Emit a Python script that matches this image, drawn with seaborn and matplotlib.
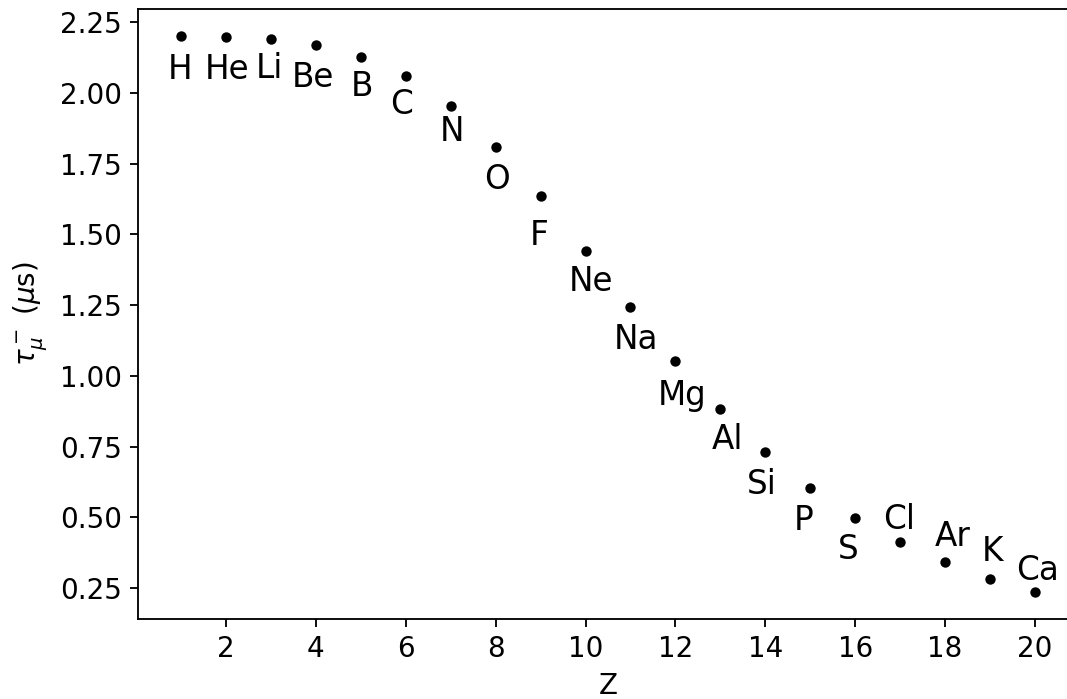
import matplotlib
matplotlib.use("Agg")
import matplotlib.pyplot as plt
import seaborn as sns
import pandas as pd

# Data
elements = ["H", "He", "Li", "Be", "B", "C", "N", "O", "F", "Ne",
            "Na", "Mg", "Al", "Si", "P", "S", "Cl", "Ar", "K", "Ca"]
Z = list(range(1, 21))
lifetime_us = [2.200, 2.199, 2.190, 2.171, 2.127, 2.060, 1.953, 1.810, 1.636, 1.442,
               1.244, 1.052, 0.882, 0.730, 0.603, 0.498, 0.412, 0.341, 0.284, 0.238]

# Label offsets (pixels, from point to text baseline centre)
label_dx = [-1, 0.7, -1.3, -2.7, 0.7, -4, 1, 1.7, -1.6, 5,
            5.3, 7, 7, -3.3, -6.7, -7, -1.3, 7.4, 2.7, 3]
label_dy = [-42.2, -41.8, -39.2, -42.1, -39.1, -37.5, -34.5, -42.4, -48.5, -40.4,
            -41.8, -44.1, -39.5, -41.5, -42.1, -40.8, 13.5, 16.9, 17.9, 11.9]

df = pd.DataFrame({"Z": Z, "tau": lifetime_us, "el": elements})

W, H = 1067, 699
fig = plt.figure(figsize=(W / 100, H / 100), dpi=100)
ax = fig.add_axes([138.3 / W, (H - 619.3) / H, (1077.7 - 138.3) / W, (619.3 - 8.7) / H])

sns.scatterplot(data=df, x="Z", y="tau", ax=ax, color="black", s=56, linewidth=0)

for z, t, el, dx, dy in zip(Z, lifetime_us, elements, label_dx, label_dy):
    ax.annotate(el, (z, t), xytext=(dx, dy), textcoords="offset pixels",
                ha="center", va="baseline", fontsize=23.5, color="black")

yt = [0.25, 0.50, 0.75, 1.00, 1.25, 1.50, 1.75, 2.00, 2.25]
ax.set_xlim(0.05, 20.95)
ax.set_ylim(0.140, 2.298)
ax.set_xticks([2, 4, 6, 8, 10, 12, 14, 16, 18, 20])
ax.set_yticks(yt)
ax.set_yticklabels([f"{v:.2f}" for v in yt])
ax.set_xlabel("Z", fontsize=20, labelpad=6.5)
ax.set_ylabel(r"$\tau_\mu^-$ ($\mu$s)", fontsize=20, labelpad=8)
ax.tick_params(labelsize=20, length=5.8, width=1.33, pad=5.8, colors="black")
for sp in ax.spines.values():
    sp.set_linewidth(1.33)
    sp.set_color("black")

fig.savefig("out.png", dpi=100)
